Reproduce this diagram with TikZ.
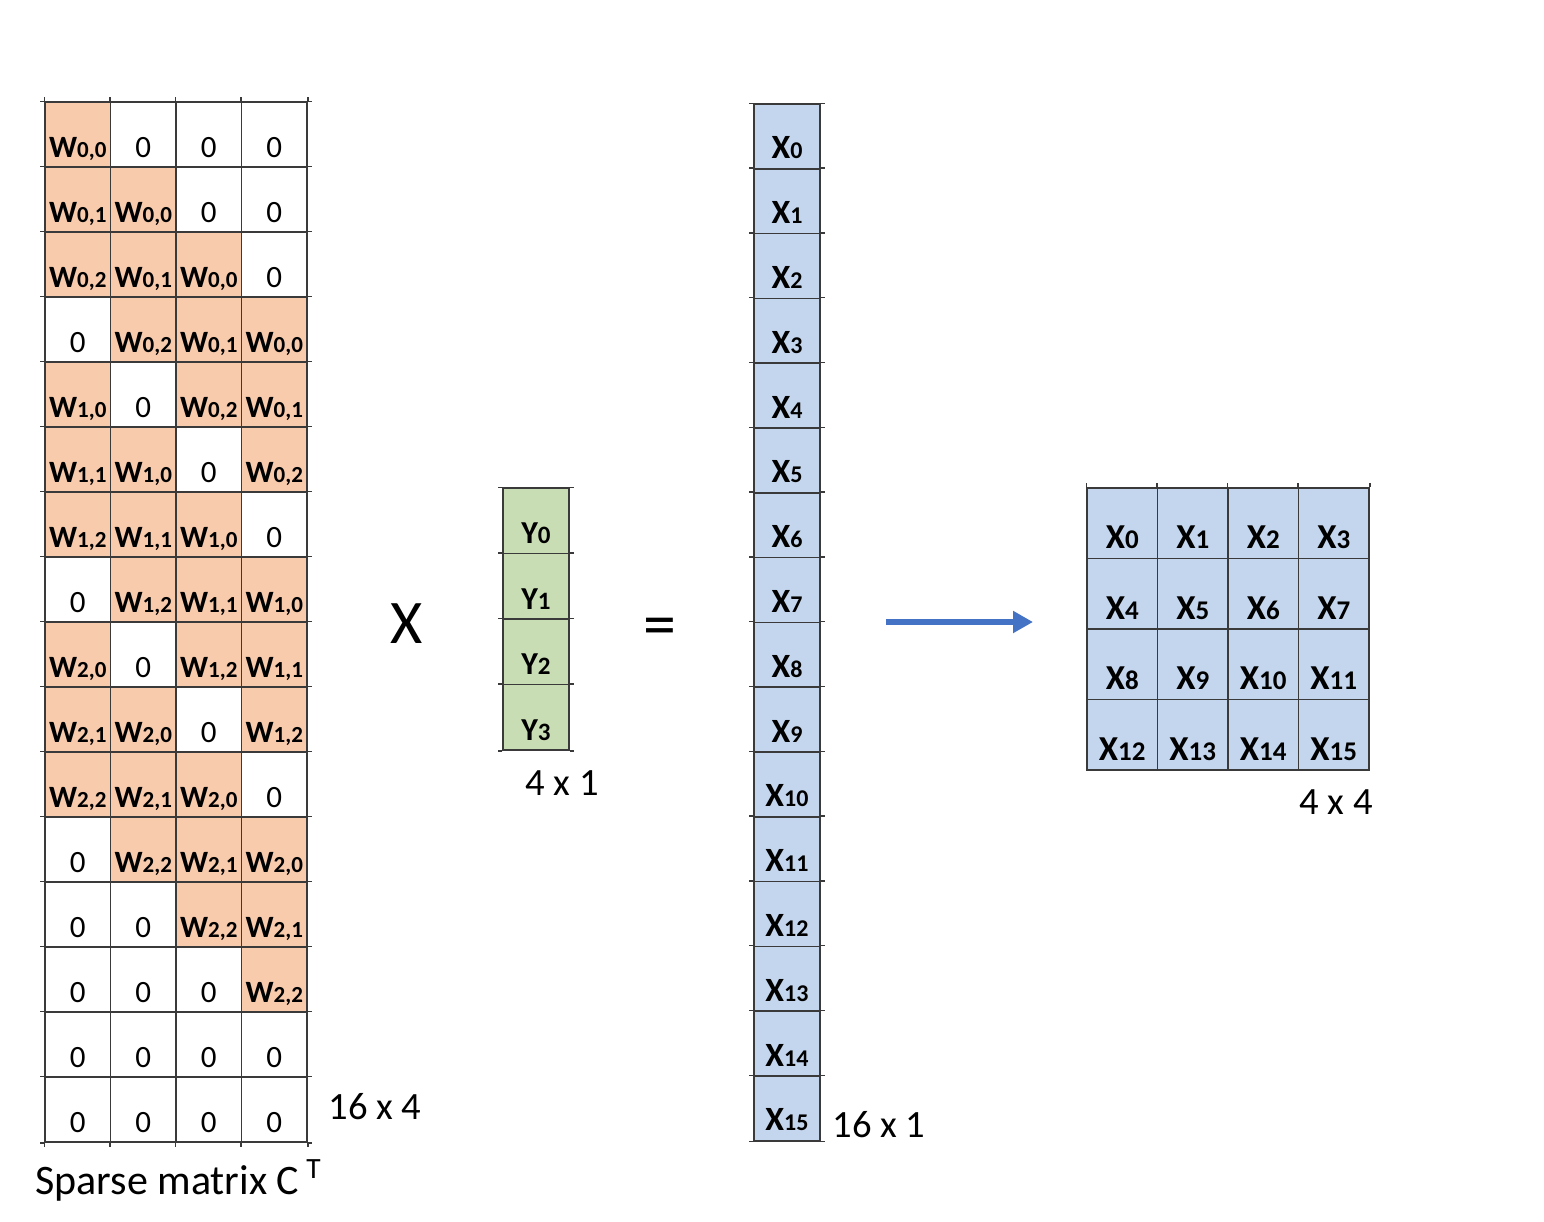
\documentclass[tikz,border=0pt]{standalone}
\usepackage{fontspec}
\setmainfont{Carlito}
\usetikzlibrary{arrows.meta}
\definecolor{wfill}{HTML}{F8CBAD}
\definecolor{yfill}{HTML}{C9DDB5}
\definecolor{xfill}{HTML}{C4D6ED}
\definecolor{gridc}{HTML}{3A3A3A}
\definecolor{arrowc}{HTML}{4472C4}
\newcommand{\wv}[2]{\textbf{W\fontsize{11.5}{13}\selectfont #1,#2}}
\newcommand{\yv}[1]{\textbf{Y\fontsize{12.5}{14}\selectfont #1}}
\newcommand{\xv}[1]{\textbf{X\fontsize{12}{14}\selectfont #1}}
\newcommand{\xg}[1]{\textbf{X\fontsize{13.5}{15}\selectfont #1}}
\begin{document}
\begin{tikzpicture}[x=0.5pt,y=-0.5pt,
  cellbase/.style={draw=gridc, line width=0.75pt, inner sep=0pt, anchor=center, text depth=5pt},
  mcell/.style={cellbase, minimum width=32.75pt, text height=27.5pt, font=\fontsize{15.5}{17}\selectfont},
  wcell/.style={mcell, fill=wfill},
  zcell/.style={mcell, fill=white},
  ycell/.style={cellbase, fill=yfill, minimum width=33pt, text height=27.75pt, font=\fontsize{16}{18}\selectfont},
  xcell/.style={cellbase, fill=xfill, minimum width=33pt, text height=27.4pt, font=\fontsize{17}{19}\selectfont},
  gcell/.style={cellbase, fill=xfill, minimum width=35.25pt, text height=30.25pt, font=\fontsize{17.5}{19}\selectfont},
  dimlbl/.style={inner sep=0pt, anchor=base, font=\fontsize{19.3}{22}\selectfont},
  oplbl/.style={inner sep=0pt, font=\fontsize{31}{36}\selectfont},
  tick/.style={draw=gridc, line width=0.75pt}
]
\useasboundingbox (0,0) rectangle (1544,1222);
% sparse matrix C^T
\foreach \r in {0,...,15}{
  \foreach \c in {0,...,3}{
    \pgfmathtruncatemacro\dd{\r-\c}
    \pgfmathtruncatemacro\kj{mod(\dd+4,4)}
    \pgfmathtruncatemacro\nz{and(and(\dd>-1,\dd<12),\kj<3)}
    \ifnum\nz=1
      \pgfmathtruncatemacro\ki{floor(\dd/4)}
      \node[wcell] (m-\r-\c) at ({45+65.5*(\c+0.5)},{102+65*(\r+0.5)}) {\wv{\ki}{\kj}};
    \else
      \node[zcell] (m-\r-\c) at ({45+65.5*(\c+0.5)},{102+65*(\r+0.5)}) {0};
    \fi
  }
}
% ticks of the matrix grid
\foreach \c in {0,...,3}{
  \draw[tick] (m-0-\c.north west) -- ++(0,-4);
  \draw[tick] (m-15-\c.south west) -- ++(0,4);
}
\draw[tick] (m-0-3.north east) -- ++(0,-4);
\draw[tick] (m-15-3.south east) -- ++(0,4);
\foreach \r in {0,...,15}{
  \draw[tick] (m-\r-0.north west) -- ++(-4,0);
  \draw[tick] (m-\r-3.north east) -- ++(4,0);
}
\draw[tick] (m-15-0.south west) -- ++(-4,0);
\draw[tick] (m-15-3.south east) -- ++(4,0);
% Y vector
\foreach \r in {0,...,3}{
  \node[ycell] (y-\r) at (536,{488+65.5*(\r+0.5)}) {\yv{\r}};
  \draw[tick] (y-\r.north west) -- ++(-4,0);
  \draw[tick] (y-\r.north east) -- ++(4,0);
}
\draw[tick] (y-3.south west) -- ++(-4,0);
\draw[tick] (y-3.south east) -- ++(4,0);
% X vector
\foreach \r in {0,...,15}{
  \node[xcell] (x-\r) at (787,{104+64.8*(\r+0.5)}) {\xv{\r}};
  \draw[tick] (x-\r.north west) -- ++(-4,0);
  \draw[tick] (x-\r.north east) -- ++(4,0);
}
\draw[tick] (x-15.south west) -- ++(-4,0);
\draw[tick] (x-15.south east) -- ++(4,0);
% 4x4 grid
\foreach \r in {0,...,3}{
  \foreach \c in {0,...,3}{
    \pgfmathtruncatemacro\k{4*\r+\c}
    \node[gcell] (g-\r-\c) at ({1087+70.5*(\c+0.5)},{488+70.5*(\r+0.5)}) {\xg{\k}};
  }
}
\foreach \c in {0,...,3}{
  \draw[tick] (g-0-\c.north west) -- ++(0,-4);
}
\draw[tick] (g-0-3.north east) -- ++(0,-4);
% operators
\node[oplbl, anchor=base] (times) at (407,643) {X};
\node[oplbl, font=\fontsize{33}{38}\selectfont] (eq) at (660,632) {=};
% arrow
\coordinate (arrS) at (886,622);
\coordinate (arrE) at (1033,622);
\draw[line width=2.8pt, arrowc, -{Triangle[length=10pt,width=10.5pt]}] (arrS) -- (arrE);
% labels
\node[dimlbl] (dimC) at (375,1119) {16 x 4};
\node[dimlbl] (dimY) at (562,795) {4 x 1};
\node[dimlbl] (dimX) at (879,1137) {16 x 1};
\node[dimlbl] (dimG) at (1336,814) {4 x 4};
\node[inner sep=0pt, anchor=base west, font=\fontsize{21}{24}\selectfont] (title) at (35,1194) {Sparse matrix C\,\textsuperscript{T}};
\end{tikzpicture}
\end{document}
